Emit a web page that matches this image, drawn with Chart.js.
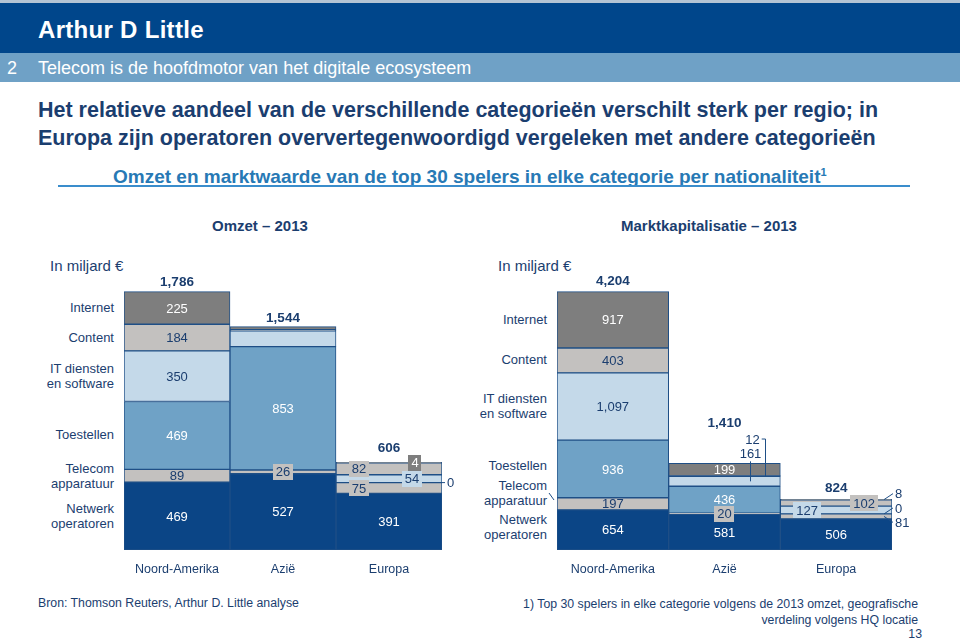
<!DOCTYPE html>
<html>
<head>
<meta charset="utf-8">
<script src="https://cdn.jsdelivr.net/npm/chart.js@4.4.1/dist/chart.umd.min.js"></script>
<style>
  body { margin: 0; width: 960px; height: 640px; position: relative; overflow: hidden; background: #fff;
         font-family: "Liberation Sans", Arial, sans-serif; color: #1b3e6f; }
  .t { position: absolute; white-space: nowrap; }
  .r { text-align: right; }
  canvas { position: absolute; }
</style>
</head>
<body>
<div style="position:absolute;left:0;top:0;width:960px;height:3px;background:#b3c4d4"></div>
<div style="position:absolute;left:0;top:3px;width:960px;height:50px;background:#00468b"></div>
<div style="position:absolute;left:0;top:53px;width:960px;height:29px;background:#6fa1c6"></div>
<div class="t" style="left:38px;top:16px;font-size:24px;line-height:28px;font-weight:900;color:#fff;letter-spacing:0.3px">Arthur D Little</div>
<div class="t" style="left:7px;top:57px;font-size:18px;line-height:22px;color:#fff">2</div>
<div class="t" style="left:38px;top:57px;font-size:18px;line-height:22px;color:#fff">Telecom is de hoofdmotor van het digitale ecosysteem</div>

<div class="t" style="left:38px;top:96px;font-size:21.5px;line-height:28px;font-weight:bold;color:#1b3e6f">Het relatieve aandeel van de verschillende categorieën verschilt sterk per regio; in<br>Europa zijn operatoren oververtegenwoordigd vergeleken met andere categorieën</div>
<div class="t" style="left:113px;top:160px;font-size:19px;line-height:24px;font-weight:bold;color:#2779b5">Omzet en marktwaarde van de top 30 spelers in elke categorie per nationaliteit<sup style="font-size:11px">1</sup></div>
<div style="position:absolute;left:58px;top:185px;width:852px;height:2px;background:#3a8dcc"></div>

<div class="t" style="left:212px;top:217px;font-size:15px;line-height:18px;font-weight:bold">Omzet – 2013</div>
<div class="t" style="left:621px;top:217px;font-size:15px;line-height:18px;font-weight:bold">Marktkapitalisatie – 2013</div>

<div class="t" style="left:50px;top:257px;font-size:15px;line-height:18px">In miljard €</div>
<div class="t" style="left:498px;top:257px;font-size:15px;line-height:18px">In miljard €</div>

<div class="t r" style="right:846px;top:300px;font-size:13px;line-height:16px">Internet</div>
<div class="t r" style="right:846px;top:330px;font-size:13px;line-height:16px">Content</div>
<div class="t r" style="right:846px;top:361px;font-size:13px;line-height:15px">IT diensten<br>en software</div>
<div class="t r" style="right:846px;top:427px;font-size:13px;line-height:16px">Toestellen</div>
<div class="t r" style="right:846px;top:461px;font-size:13px;line-height:15px">Telecom<br>apparatuur</div>
<div class="t r" style="right:846px;top:501px;font-size:13px;line-height:15px">Netwerk<br>operatoren</div>

<div class="t r" style="right:413px;top:312px;font-size:13px;line-height:16px">Internet</div>
<div class="t r" style="right:413px;top:352px;font-size:13px;line-height:16px">Content</div>
<div class="t r" style="right:413px;top:391px;font-size:13px;line-height:15px">IT diensten<br>en software</div>
<div class="t r" style="right:413px;top:458px;font-size:13px;line-height:16px">Toestellen</div>
<div class="t r" style="right:413px;top:478px;font-size:13px;line-height:15px">Telecom<br>apparatuur</div>
<div class="t r" style="right:413px;top:512px;font-size:13px;line-height:15px">Netwerk<br>operatoren</div>
<svg style="position:absolute;left:548px;top:492px" width="8" height="10"><line x1="1" y1="1" x2="6" y2="8" stroke="#1f4f86" stroke-width="1"/></svg>

<canvas id="omzet" width="480" height="330" style="left:0;top:250px"></canvas>
<canvas id="kap" width="480" height="330" style="left:480px;top:250px"></canvas>

<div class="t" style="left:38px;top:595px;font-size:12.3px;line-height:16px">Bron: Thomson Reuters, Arthur D. Little analyse</div>
<div class="t r" style="right:42px;top:596px;font-size:12.3px;line-height:16px">1) Top 30 spelers in elke categorie volgens de 2013 omzet, geografische<br>verdeling volgens HQ locatie</div>
<div class="t r" style="right:38px;top:626px;font-size:12.3px;line-height:16px">13</div>

<script>
// categorieën en segmenten (van onder naar boven)
const regions = ["Noord-Amerika", "Azië", "Europa"];
const segments = ["Netwerk operatoren", "Telecom apparatuur", "Toestellen", "IT diensten en software", "Content", "Internet"];

// Omzet 2013, in miljard €
const omzetNetwerk = [469, 527, 391];
const omzetTelecomApp = [89, 26, 75];
const omzetToestellen = [469, 853, 0];
const omzetIT = [350, 110, 54];
const omzetContent = [184, 7, 82];
const omzetInternet = [225, 21, 4];
const omzetTotals = [1786, 1544, 606];

// Marktkapitalisatie 2013, in miljard €
const kapNetwerk = [654, 581, 506];
const kapTelecomApp = [197, 20, 81];
const kapToestellen = [936, 436, 0];
const kapIT = [1097, 161, 127];
const kapContent = [403, 12, 102];
const kapInternet = [917, 199, 8];
const kapTotals = [4204, 1410, 824];

const segColors = ["#0b4586", "#c3c1bf", "#6fa2c6", "#c4d9e9", "#c3c1bf", "#7e7e7e"];
const labelColors = ["#fff", "#1b3e6f", "#fff", "#1b3e6f", "#1b3e6f", "#fff"];
const lineColor = "#1f4f86";
const navy = "#1b3e6f";

function fmt(v) {
  return v.toLocaleString("en-US");
}

// labels in de segmenten, met uitzonderingen voor de kleine stukjes
const segLabels = {
  id: "segLabels",
  afterDatasetsDraw(chart, args, opts) {
    const ctx = chart.ctx;
    const over = opts.overrides || {};
    ctx.save();
    ctx.font = '13px "Liberation Sans", Arial, sans-serif';
    ctx.textBaseline = "middle";
    ctx.strokeStyle = lineColor;
    ctx.lineWidth = 1;

    chart.data.datasets.forEach((ds, d) => {
      const meta = chart.getDatasetMeta(d);
      meta.data.forEach((bar, i) => {
        const o = over[d + "-" + i] || {};
        if (o.hide) return;
        const txt = fmt(ds.data[i]);
        const cx = bar.x;
        const cy = (bar.y + bar.base) / 2;
        const right = bar.x + bar.width / 2;
        let lx = cx + (o.dx || 0);
        let ly = cy + (o.dy || 0);
        const w = ctx.measureText(txt).width;
        ctx.textAlign = "center";

        if (o.out) {
          lx = right + o.gap + w / 2;
          ctx.beginPath();
          ctx.moveTo(right - o.inset, cy);
          ctx.lineTo(right + o.gap - 2, ly);
          ctx.stroke();
        }
        if (o.leader === "up") {
          ctx.beginPath();
          ctx.moveTo(lx, cy);
          ctx.lineTo(lx, ly + 8);
          ctx.stroke();
        }
        if (o.leader === "elbow") {
          ctx.beginPath();
          ctx.moveTo(lx + w / 2 + 2, ly);
          ctx.lineTo(cx + o.ex, ly);
          ctx.lineTo(cx + o.ex, cy);
          ctx.stroke();
        }
        if (o.box) {
          ctx.fillStyle = segColors[d];
          ctx.fillRect(Math.round(lx - w / 2 - 3), Math.round(ly - 8), Math.round(w + 6), 16);
        }
        ctx.fillStyle = o.color || (o.out || o.leader ? navy : labelColors[d]);
        ctx.fillText(txt, lx, ly + 1);
      });
    });

    // totalen boven de staven
    ctx.font = 'bold 13.5px "Liberation Sans", Arial, sans-serif';
    ctx.fillStyle = navy;
    ctx.textAlign = "center";
    const top = chart.getDatasetMeta(chart.data.datasets.length - 1).data;
    opts.totals.forEach((t, i) => {
      ctx.fillText(fmt(t), top[i].x, top[i].y - opts.lift[i]);
    });
    ctx.restore();
  },
};

function makeChart(id, series, totals, yMax, pad, overrides, lift) {
  return new Chart(document.getElementById(id), {
    type: "bar",
    data: {
      labels: regions,
      datasets: series.map((data, d) => ({
        label: segments[d],
        data: data,
        backgroundColor: segColors[d],
        borderColor: lineColor,
        borderWidth: 1,
        borderSkipped: false,
        barPercentage: 1,
        categoryPercentage: 1,
      })),
    },
    options: {
      responsive: false,
      animation: false,
      layout: { padding: pad },
      plugins: {
        legend: { display: false },
        tooltip: { enabled: false },
        segLabels: { overrides: overrides, totals: totals, lift: lift },
      },
      scales: {
        x: {
          stacked: true,
          grid: { display: false, drawTicks: false },
          border: { display: false },
          ticks: { color: navy, padding: 12, font: { size: 12.5, family: '"Liberation Sans", Arial, sans-serif' } },
          afterFit(scale) { scale.height = 30; },
        },
        y: { stacked: true, display: false, min: 0, max: yMax },
      },
    },
    plugins: [segLabels],
  });
}

makeChart(
  "omzet",
  [omzetNetwerk, omzetTelecomApp, omzetToestellen, omzetIT, omzetContent, omzetInternet],
  omzetTotals,
  1936,
  { left: 124, right: 38, top: 20, bottom: 0 },
  {
    "1-1": { box: true },
    "3-1": { hide: true },
    "4-1": { hide: true },
    "5-1": { hide: true },
    "1-2": { dx: -30, box: true },
    "2-2": { out: true, inset: 0, gap: 5, dy: 0 },
    "3-2": { dx: 23, box: true },
    "4-2": { dx: -30, box: true },
    "5-2": { dx: 26, box: true, color: "#fff" },
  },
  [9, 8, 14]
);

makeChart(
  "kap",
  [kapNetwerk, kapTelecomApp, kapToestellen, kapIT, kapContent, kapInternet],
  kapTotals,
  4557,
  { left: 77, right: 68, top: 20, bottom: 0 },
  {
    "1-1": { box: true },
    "3-1": { dx: 26, dy: -28, leader: "up" },
    "4-1": { dx: 28, dy: -37, leader: "elbow", ex: 41 },
    "1-2": { out: true, inset: 8, gap: 3, dy: 6 },
    "2-2": { out: true, inset: 8, gap: 3, dy: -6 },
    "3-2": { dx: -29, box: true },
    "4-2": { dx: 28, box: true },
    "5-2": { out: true, inset: 8, gap: 3, dy: -6 },
  },
  [10, 40, 11]
);
</script>
</body>
</html>
